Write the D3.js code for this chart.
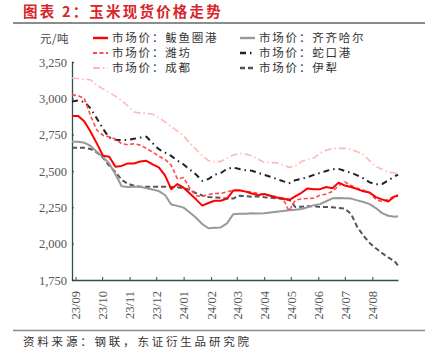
<!DOCTYPE html>
<html><head><meta charset="utf-8">
<script src="https://cdn.jsdelivr.net/npm/d3@7"></script>
<style>body{margin:0;background:#fff}svg{display:block}</style>
</head><body>
<script>
const startDate = "2023-08-28";
const endDate = "2024-08-30";
const weeks = 53; // weekly samples from startDate, plus endDate
const tickLabels = ["23/09","23/10","23/11","23/12","24/01","24/02","24/03","24/04","24/05","24/06","24/07","24/08"];
const tickDates = ["2023-09-01","2023-10-01","2023-11-01","2023-12-01","2024-01-01","2024-02-01","2024-03-01","2024-04-01","2024-05-01","2024-06-01","2024-07-01","2024-08-01"];
const yTicks = [1750,2000,2250,2500,2750,3000,3250];

const byuquan = [2879,2879,2840,2770,2690,2605,2598,2530,2535,2552,2552,2565,2570,2545,2525,2470,2375,2410,2385,2345,2305,2262,2280,2295,2295,2310,2365,2368,2358,2345,2334,2342,2330,2318,2311,2300,2325,2350,2380,2375,2375,2390,2382,2420,2400,2390,2375,2360,2352,2320,2305,2290,2325,2330];
const weifang = [3024,3018,2998,2880,2782,2745,2735,2720,2688,2680,2688,2678,2656,2630,2602,2580,2540,2445,2455,2380,2330,2325,2338,2345,2346,2356,2368,2368,2360,2354,2345,2337,2330,2322,2312,2225,2299,2308,2311,2312,2334,2340,2360,2400,2425,2400,2382,2368,2350,2305,2290,2305,2328,2334];
const chengdu = [3140,3135,3130,3128,3090,3065,3040,3015,2985,2948,2906,2898,2898,2890,2865,2838,2805,2775,2740,2692,2648,2605,2572,2563,2566,2588,2610,2621,2616,2604,2582,2558,2558,2557,2542,2525,2535,2565,2580,2590,2621,2643,2655,2656,2656,2648,2632,2612,2570,2530,2512,2492,2486,2483];
const qiqihaer = [2702,2702,2695,2672,2632,2595,2552,2478,2395,2390,2391,2391,2381,2372,2362,2335,2270,2260,2248,2215,2178,2135,2106,2110,2112,2140,2203,2205,2206,2210,2207,2210,2215,2220,2225,2230,2234,2238,2250,2265,2272,2292,2312,2315,2313,2310,2298,2287,2272,2245,2210,2192,2185,2188];
const shekou = [2978,2985,2975,2930,2862,2790,2730,2715,2713,2714,2722,2730,2736,2692,2650,2627,2604,2572,2545,2510,2476,2432,2445,2474,2486,2515,2524,2514,2506,2502,2488,2474,2460,2445,2430,2416,2437,2446,2458,2473,2487,2500,2512,2515,2500,2488,2470,2449,2422,2408,2410,2436,2462,2475];
const yili = [2660,2660,2660,2652,2628,2592,2536,2494,2440,2412,2399,2391,2391,2391,2391,2391,2390,2388,2382,2370,2348,2332,2321,2318,2315,2311,2311,2330,2327,2322,2326,2320,2316,2312,2308,2304,2253,2254,2258,2258,2253,2253,2250,2245,2241,2205,2115,2055,2005,1968,1935,1905,1880,1850];

const parse = d3.utcParse("%Y-%m-%d");
const dates = d3.utcDay.range(parse(startDate), d3.utcDay.offset(parse(startDate), weeks*7), 7);
dates.push(parse(endDate));

const series = [
  {name:"市场价：鲅鱼圈港", values:byuquan, color:"#ff0000", width:2, dash:null},
  {name:"市场价：潍坊", values:weifang, color:"#ff4a4a", width:1.6, dash:"4,2.5"},
  {name:"市场价：成都", values:chengdu, color:"#ffb8b8", width:1.6, dash:"7,3,1.5,3"},
  {name:"市场价：齐齐哈尔", values:qiqihaer, color:"#999999", width:2, dash:null},
  {name:"市场价：蛇口港", values:shekou, color:"#222222", width:2, dash:"6,4,1.5,4"},
  {name:"市场价：伊犁", values:yili, color:"#555555", width:2, dash:"5,3"}
];

const W = 431, H = 360;
const svg = d3.select("body").append("svg").attr("width", W).attr("height", H);

const x = d3.scaleUtc().domain([parse(startDate), parse(endDate)]).range([72, 398]);
const y = d3.scaleLinear().domain([1750, 3250]).range([280, 62]);

// title
svg.append("text").attr("x", 23).attr("y", 17).attr("fill", "#d9252a")
  .attr("font-family", "'Noto Sans CJK SC', sans-serif").attr("font-weight", "bold")
  .attr("font-size", 14.5).attr("letter-spacing", 2.2).text("图表 2：玉米现货价格走势");
svg.append("line").attr("x1", 13).attr("x2", 425).attr("y1", 23).attr("y2", 23)
  .attr("stroke", "#8c8c8c").attr("stroke-width", 2);

// bottom rule and source
svg.append("line").attr("x1", 13).attr("x2", 425).attr("y1", 330.5).attr("y2", 330.5)
  .attr("stroke", "#8c8c8c").attr("stroke-width", 1.5);
svg.append("text").attr("x", 23).attr("y", 346).attr("fill", "#333")
  .attr("font-family", "'Noto Sans CJK SC', sans-serif").attr("font-size", 11.5).attr("letter-spacing", 2.8)
  .text("资料来源：钢联，东证衍生品研究院");

// unit
svg.append("text").attr("x", 40).attr("y", 43).attr("fill", "#444")
  .attr("font-family", "'Noto Sans CJK SC', sans-serif").attr("font-size", 11.5).attr("letter-spacing", 0.5).text("元/吨");

const axisColor = "#2f4f4f";
// y axis
const yAxis = svg.append("g").attr("transform", "translate(72,0)")
  .call(d3.axisLeft(y).tickValues(yTicks).tickSize(-2).tickPadding(5).tickFormat(d3.format(",")));
yAxis.select(".domain").attr("stroke", axisColor).attr("stroke-width", 1.3);
yAxis.selectAll(".tick line").attr("stroke", axisColor);
yAxis.selectAll(".tick text").attr("font-family", "'Liberation Serif', serif").attr("font-size", 12.5).attr("fill", "#555");

// x axis
const xAxis = svg.append("g").attr("transform", "translate(0,280)")
  .call(d3.axisBottom(x).tickValues(tickDates.map(parse)).tickSize(-3).tickSizeOuter(0)
    .tickFormat((d,i) => tickLabels[i]));
xAxis.select(".domain").attr("stroke", axisColor).attr("stroke-width", 1.3);
xAxis.selectAll(".tick line").attr("stroke", axisColor);
xAxis.selectAll(".tick text")
  .attr("font-family", "'Liberation Serif', serif").attr("font-size", 12.5).attr("fill", "#555")
  .attr("transform", "rotate(-90)").attr("text-anchor", "end")
  .attr("x", -11).attr("y", 0).attr("dy", "0.35em");

// lines
const line = d3.line().x((d,i) => x(dates[i])).y(d => y(d));
const order = [2, 4, 5, 3, 1, 0];
order.forEach(k => {
  const s = series[k];
  svg.append("path").datum(s.values).attr("d", line)
    .attr("fill", "none").attr("stroke", s.color).attr("stroke-width", s.width)
    .attr("stroke-dasharray", s.dash).attr("stroke-linejoin", "round");
});

// legend
const legX = [93, 240], legY = [38, 53, 68];
series.forEach((s, i) => {
  const col = Math.floor(i / 3), row = i % 3;
  const g = svg.append("g").attr("transform", `translate(${legX[col]},${legY[row]})`);
  g.append("line").attr("x1", 0).attr("x2", 15).attr("y1", 0).attr("y2", 0)
    .attr("stroke", s.color).attr("stroke-width", s.width + 0.4).attr("stroke-dasharray", s.dash);
  g.append("text").attr("x", 19).attr("y", 0).attr("dy", "0.36em").attr("fill", "#333")
    .attr("font-family", "'Noto Sans CJK SC', sans-serif").attr("font-size", 11.5).attr("letter-spacing", 1.8).text(s.name);
});
</script>
</body></html>
